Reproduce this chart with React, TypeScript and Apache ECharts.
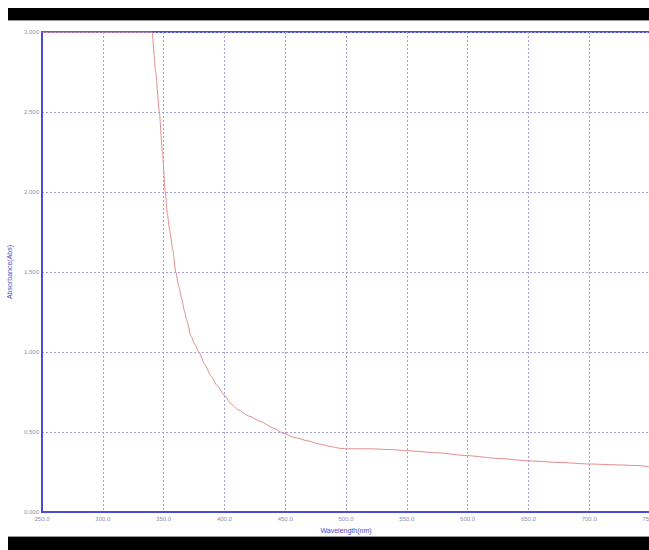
import React, { useEffect, useRef } from "react";
import * as echarts from "echarts";

const wavelengths = [250, 300, 340.5, 343.5, 346.5, 349, 351.4, 353, 355, 357.5, 360, 362.5, 365, 367, 369, 372.5, 375.5, 379, 384, 389, 394, 400, 405, 411, 420, 430, 440, 449, 458, 468.5, 478, 488, 495, 500, 520, 537, 550, 575, 600, 625, 650, 675, 700, 725, 740, 750];
const absorbance = [3.0, 3.0, 3.0, 2.75, 2.5, 2.25, 2.0, 1.87, 1.76, 1.64, 1.5, 1.41, 1.33, 1.26, 1.2, 1.1, 1.05, 1.0, 0.92, 0.85, 0.79, 0.73, 0.68, 0.64, 0.6, 0.565, 0.525, 0.49, 0.465, 0.445, 0.425, 0.408, 0.398, 0.395, 0.395, 0.39, 0.383, 0.37, 0.352, 0.335, 0.32, 0.31, 0.3, 0.294, 0.29, 0.283];
const xTicks = { min: 250, max: 750, interval: 50 };
const yTicks = { min: 0, max: 3, interval: 0.5 };

export default function App() {
  const ref = useRef<HTMLDivElement>(null);
  useEffect(() => {
    if (!ref.current) return;
    const chart = echarts.init(ref.current, null, { renderer: "svg" });
    const axisBlue = "#4b4bd6";
    const gridBlue = "#a2a2d8";
    chart.setOption({
      animation: false,
      backgroundColor: "#ffffff",
      textStyle: { fontFamily: "Liberation Sans, Arial, sans-serif" },
      graphic: [
        { type: "rect", shape: { x: 8, y: 8, width: 641, height: 12 }, style: { fill: "#000000" } },
        { type: "rect", shape: { x: 8, y: 20, width: 641, height: 1 }, style: { fill: "#9a9a9a" } },
        { type: "rect", shape: { x: 8, y: 537, width: 641, height: 13 }, style: { fill: "#000000" } },
        { type: "rect", shape: { x: 8, y: 536, width: 641, height: 1 }, style: { fill: "#9a9a9a" } },
      ],
      grid: {
        left: 42,
        top: 32,
        width: 608,
        height: 480,
        outerBoundsMode: "none",
        containLabel: false,
        show: true,
        borderColor: axisBlue,
        borderWidth: 2,
        backgroundColor: "transparent",
      },
      xAxis: {
        type: "value",
        min: xTicks.min,
        max: xTicks.max,
        interval: xTicks.interval,
        name: "Wavelength(nm)",
        nameLocation: "middle",
        nameGap: 15,
        nameTextStyle: { color: "#4a4ac8", fontSize: 7 },
        axisLine: { show: true, lineStyle: { color: axisBlue, width: 2 } },
        axisTick: { show: false },
        axisLabel: {
          color: "#8c8cae",
          fontSize: 6,
          margin: 4,
          formatter: (v: number) => v.toFixed(1),
        },
        splitLine: { show: true, lineStyle: { color: gridBlue, type: [2, 2], width: 1 } },
      },
      yAxis: {
        type: "value",
        min: yTicks.min,
        max: yTicks.max,
        interval: yTicks.interval,
        name: "Absorbance(Abs)",
        nameLocation: "middle",
        nameGap: 18,
        nameTextStyle: { color: "#4a4ac8", fontSize: 7 },
        axisLine: { show: true, lineStyle: { color: axisBlue, width: 2 } },
        axisTick: { show: false },
        axisLabel: {
          color: "#8c8cae",
          fontSize: 6,
          margin: 3,
          formatter: (v: number) => v.toFixed(3),
        },
        splitLine: { show: true, lineStyle: { color: gridBlue, type: [2, 2], width: 1 } },
      },
      series: [
        {
          type: "line",
          data: wavelengths.map((w, i) => [w, absorbance[i]]),
          showSymbol: false,
          smooth: 0.2,
          smoothMonotone: "x",
          lineStyle: { color: "#e38c8c", width: 1 },
          clip: true,
        },
      ],
    });
    return () => chart.dispose();
  }, []);
  return (
    <div
      ref={ref}
      style={{ position: "fixed", left: 0, top: 0, width: 649, height: 550 }}
    />
  );
}
